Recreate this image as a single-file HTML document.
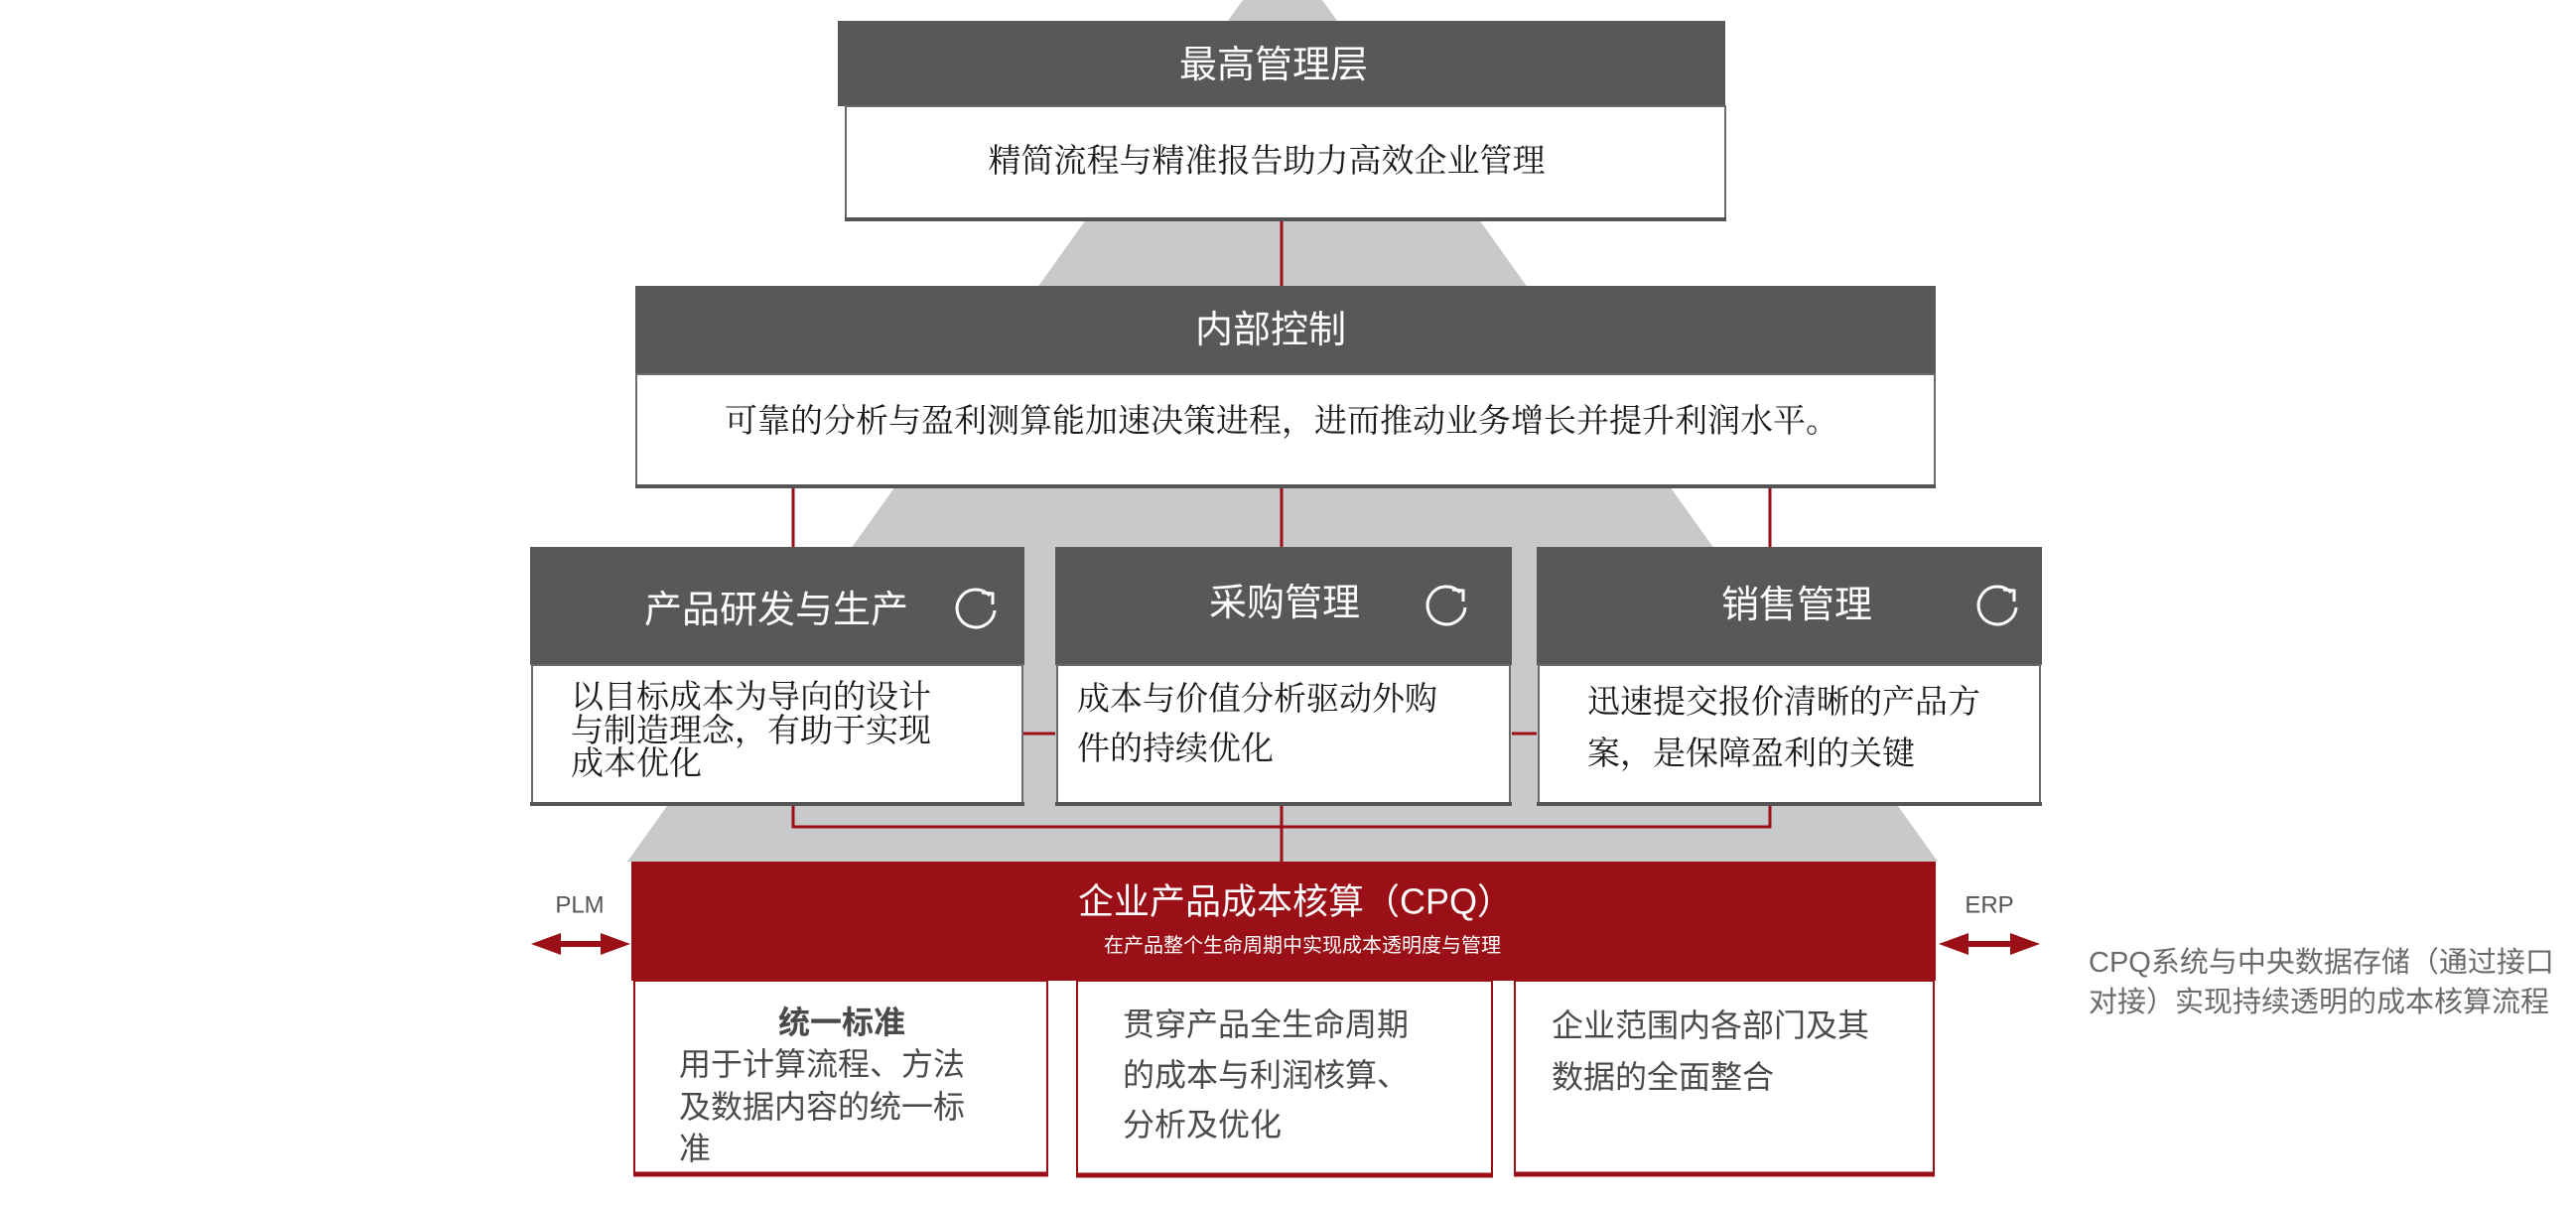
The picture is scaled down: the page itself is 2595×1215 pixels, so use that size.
<!DOCTYPE html>
<html><head><meta charset="utf-8"><style>
html,body{margin:0;padding:0;background:#fff;}
svg{display:block}
.t{font-family:"Liberation Sans","Noto Sans CJK SC",sans-serif;fill:#fff;}
.s{font-family:"Liberation Serif","Noto Serif CJK SC","Noto Sans CJK SC",serif;fill:#1a1a1a;}
.g{font-family:"Liberation Sans","Noto Sans CJK SC",sans-serif;fill:#4a4a4a;}
</style></head><body>
<svg width="2595" height="1215" viewBox="0 0 2595 1215" xmlns="http://www.w3.org/2000/svg">
<defs>
<g id="ic"><path d="M14 -13 A19 19 0 1 0 19 2" fill="none" stroke="#fff" stroke-width="3"/><path d="M6 -16 L17 -15 L17 -4" fill="none" stroke="#fff" stroke-width="3"/></g>
</defs>
<polygon points="1252,0 1332,0 1952,868 632,868" fill="#c8c9cb"/>
<g stroke="#9b0f17" stroke-width="3" fill="none">
<line x1="1291" y1="223" x2="1291" y2="290"/>
<line x1="799" y1="492" x2="799" y2="551"/>
<line x1="1291" y1="492" x2="1291" y2="551"/>
<line x1="1783" y1="492" x2="1783" y2="551"/>
<line x1="1030" y1="739" x2="1063" y2="739"/>
<line x1="1523" y1="739" x2="1548" y2="739"/>
<polyline points="799,812 799,833 1783,833 1783,812"/>
<line x1="1291" y1="812" x2="1291" y2="868"/>
</g>
<rect x="844" y="21" width="894" height="86" fill="#58585a"/>
<rect x="852" y="107" width="886" height="114" fill="#fff" stroke="#6a6a6a" stroke-width="2"/>
<line x1="851" y1="221" x2="1739" y2="221" stroke="#555" stroke-width="4"/>
<text class="t" x="1283" y="66" font-size="38" text-anchor="middle" dominant-baseline="central">最高管理层</text>
<text class="s" x="1276" y="163" font-size="33" text-anchor="middle" dominant-baseline="central">精简流程与精准报告助力高效企业管理</text>
<rect x="640" y="288" width="1310" height="89" fill="#58585a"/>
<rect x="641" y="377" width="1308" height="113" fill="#fff" stroke="#6a6a6a" stroke-width="2"/>
<line x1="640" y1="490" x2="1950" y2="490" stroke="#555" stroke-width="4"/>
<text class="t" x="1280" y="333" font-size="38" text-anchor="middle" dominant-baseline="central">内部控制</text>
<text class="s" x="1291" y="425" font-size="33" text-anchor="middle" dominant-baseline="central">可靠的分析与盈利测算能加速决策进程，进而推动业务增长并提升利润水平。</text>
<g>
<rect x="534" y="551" width="498" height="119" fill="#58585a"/>
<rect x="536" y="670" width="494" height="140" fill="#fff" stroke="#6a6a6a" stroke-width="2"/>
<line x1="534" y1="810" x2="1032" y2="810" stroke="#555" stroke-width="4"/>
<text class="t" x="782" y="615" font-size="38" text-anchor="middle" dominant-baseline="central">产品研发与生产</text>
<use href="#ic" x="983" y="613"/>
<text class="s" font-size="33" dominant-baseline="central"><tspan x="575" y="703">以目标成本为导向的设计</tspan><tspan x="575" y="737">与制造理念，有助于实现</tspan><tspan x="575" y="770">成本优化</tspan></text>
<rect x="1063" y="551" width="460" height="119" fill="#58585a"/>
<rect x="1065" y="670" width="456" height="140" fill="#fff" stroke="#6a6a6a" stroke-width="2"/>
<line x1="1063" y1="810" x2="1523" y2="810" stroke="#555" stroke-width="4"/>
<text class="t" x="1294" y="608" font-size="38" text-anchor="middle" dominant-baseline="central">采购管理</text>
<use href="#ic" x="1457" y="610"/>
<text class="s" font-size="33" dominant-baseline="central"><tspan x="1085" y="705">成本与价值分析驱动外购</tspan><tspan x="1085" y="755">件的持续优化</tspan></text>
<rect x="1548" y="551" width="509" height="119" fill="#58585a"/>
<rect x="1550" y="670" width="505" height="140" fill="#fff" stroke="#6a6a6a" stroke-width="2"/>
<line x1="1548" y1="810" x2="2057" y2="810" stroke="#555" stroke-width="4"/>
<text class="t" x="1810" y="610" font-size="38" text-anchor="middle" dominant-baseline="central">销售管理</text>
<use href="#ic" x="2012" y="610"/>
<text class="s" font-size="33" dominant-baseline="central"><tspan x="1599" y="708">迅速提交报价清晰的产品方</tspan><tspan x="1599" y="760">案，是保障盈利的关键</tspan></text>
</g>
<rect x="636" y="868" width="1314" height="120" fill="#9b0f17"/>
<text class="t" x="1305" y="908" font-size="36" text-anchor="middle" dominant-baseline="central">企业产品成本核算（CPQ）</text>
<text class="t" x="1312" y="953" font-size="20" text-anchor="middle" dominant-baseline="central">在产品整个生命周期中实现成本透明度与管理</text>
<g fill="#fff" stroke="#9b0f17" stroke-width="2">
<rect x="639" y="988" width="416" height="195"/>
<rect x="1085" y="988" width="418" height="195"/>
<rect x="1526" y="988" width="422" height="195"/>
</g>
<g stroke="#9b0f17" stroke-width="5">
<line x1="638" y1="1183" x2="1056" y2="1183"/>
<line x1="1084" y1="1184" x2="1504" y2="1184"/>
<line x1="1525" y1="1183" x2="1949" y2="1183"/>
</g>
<text class="g" x="848" y="1030" font-size="32" font-weight="bold" text-anchor="middle" dominant-baseline="central">统一标准</text>
<text class="g" font-size="32" dominant-baseline="central"><tspan x="684" y="1072">用于计算流程、方法</tspan><tspan x="684" y="1115">及数据内容的统一标</tspan><tspan x="684" y="1157">准</tspan></text>
<text class="g" font-size="32" dominant-baseline="central"><tspan x="1131" y="1032">贯穿产品全生命周期</tspan><tspan x="1131" y="1083">的成本与利润核算、</tspan><tspan x="1131" y="1133">分析及优化</tspan></text>
<text class="g" font-size="32" dominant-baseline="central"><tspan x="1563" y="1033">企业范围内各部门及其</tspan><tspan x="1563" y="1085">数据的全面整合</tspan></text>
<text class="g" x="584" y="912" font-size="24" text-anchor="middle" dominant-baseline="central" style="fill:#555">PLM</text>
<text class="g" x="2004" y="912" font-size="24" text-anchor="middle" dominant-baseline="central" style="fill:#555">ERP</text>
<polygon points="535,951 565,940 565,948 605,948 605,940 635,951 605,962 605,954 565,954 565,962" fill="#9b0f17"/>
<polygon points="1953,951 1983,940 1983,948 2025,948 2025,940 2055,951 2025,962 2025,954 1983,954 1983,962" fill="#9b0f17"/>
<text class="g" font-size="29" dominant-baseline="central" style="fill:#6a6a6a"><tspan x="2104" y="970">CPQ系统与中央数据存储（通过接口</tspan><tspan x="2104" y="1010">对接）实现持续透明的成本核算流程</tspan></text>
</svg>
</body></html>
